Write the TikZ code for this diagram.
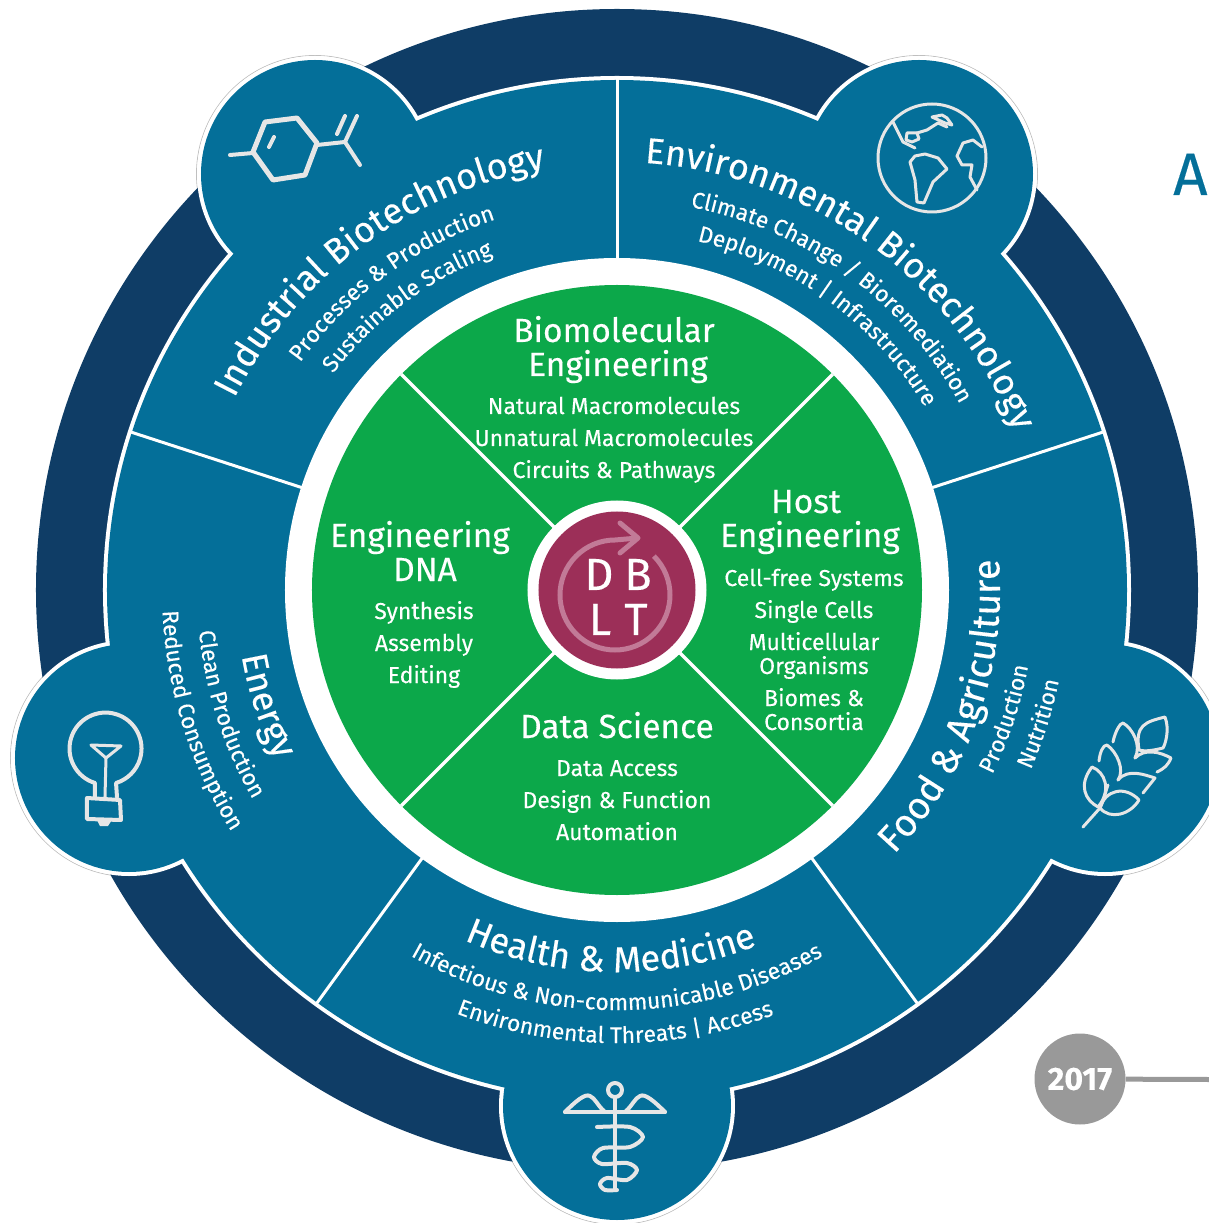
\documentclass[tikz,border=0pt]{standalone}
\usepackage{fontspec}
\setmainfont{Fira Sans}[FakeBold=0.25]
\usetikzlibrary{decorations.text}

\definecolor{navy}{HTML}{0F3D66}
\definecolor{teal}{HTML}{046F99}
\definecolor{leaf}{HTML}{0CA84A}
\definecolor{wine}{HTML}{9C2F58}
\definecolor{rose}{HTML}{C27A97}
\definecolor{icon}{HTML}{E6E6E6}
\definecolor{stone}{HTML}{999999}

\newcommand{\titlesize}{\fontsize{36}{36}\selectfont}
\newcommand{\bigtitlesize}{\fontsize{38}{38}\selectfont}
\newcommand{\itemsize}{\fontsize{22.8}{23}\selectfont}
\newcommand{\clockarc}[4]{\path[decorate,decoration={text along path,text align=center,
   text format delimiters={<}{>},text={<#3\color{white}>#4}}]
   (#2+70:#1) arc[start angle=#2+70,end angle=#2-70,radius=#1];}
\newcommand{\counterarc}[4]{\path[decorate,decoration={text along path,text align=center,
   text format delimiters={<}{>},text={<#3\color{white}>#4}}]
   (#2-70:#1) arc[start angle=#2-70,end angle=#2+70,radius=#1];}

\begin{document}
\catcode`\&=12
\begin{tikzpicture}[x=1pt,y=1pt,
    greentitle/.style ={anchor=base, inner sep=0pt, text=white, font=\fontsize{33.5}{33}\selectfont},
    greenitem/.style ={anchor=base, inner sep=0pt, text=white, font=\fontsize{23}{24}\selectfont},
    letter/.style ={anchor=base, inner sep=0pt, text=white, font=\fontsize{45}{45}\selectfont},
    glyph/.style ={draw=icon, line width=4pt, line join=round, line cap=round},
    thinglyph/.style ={glyph, line width=3pt}]
   \path[use as bounding box] (-617,-633) rectangle (592,590);

   \coordinate (lobeA) at (-302,416);
   \coordinate (lobeB) at (302,416);
   \coordinate (lobeC) at (488,-168);
   \coordinate (lobeD) at (0,-516);
   \coordinate (lobeE) at (-488,-168);

   \foreach \lobe in {lobeA,lobeB,lobeC,lobeD,lobeE}
      \draw[black!25, line width=0.8pt] (\lobe) circle (118.5);
   \fill[navy] (0,0) circle (581);
   \foreach \lobe in {lobeA,lobeB,lobeC,lobeD,lobeE}
      \fill[white] (\lobe) circle (118);
   \fill[white] (0,0) circle (514);
   \foreach \lobe in {lobeA,lobeB,lobeC,lobeD,lobeE}
      \fill[teal] (\lobe) circle (114);
   \fill[teal] (0,0) circle (510);

   \foreach \spoke in {90,162,18,234,306}
      \draw[white, line width=3pt] (\spoke:330) -- (\spoke:511);

   \fill[white] (0,0) circle (332);
   \fill[leaf] (0,0) circle (305);
   \foreach \spoke in {45,135,225,315}
      \draw[white, line width=3.5pt] (0,0) -- (\spoke:305);

   \node[circle, fill=white, inner sep=0pt, minimum size=179pt] (hubring) at (0,0) {};
   \node[circle, fill=wine, inner sep=0pt, minimum size=157pt] (hub) at (0,0) {};

   \clockarc{428}{126.5}{\titlesize}{Industrial Biotechnology}
   \clockarc{390}{126.25}{\itemsize}{Processes & Production}
   \clockarc{357}{126.5}{\itemsize}{Sustainable Scaling}

   \clockarc{428}{54}{\titlesize}{Environmental Biotechnology}
   \clockarc{390}{53.8}{\itemsize}{Climate Change / Bioremediation}
   \clockarc{358}{53.85}{\itemsize}{Deployment | Infrastructure}

   \counterarc{383}{-19.5}{\bigtitlesize}{Food & Agriculture}
   \counterarc{418}{-18.35}{\itemsize}{Production}
   \counterarc{451}{-17.55}{\itemsize}{Nutrition}

   \counterarc{382}{269}{\titlesize}{Health & Medicine}
   \counterarc{420}{270}{\itemsize}{Infectious & Non-communicable Diseases}
   \counterarc{453}{269.75}{\itemsize}{Environmental Threats | Access}

   \counterarc{381}{198.25}{\titlesize}{Energy}
   \counterarc{420}{197.75}{\itemsize}{Clean Production}
   \counterarc{455}{197.35}{\itemsize}{Reduced Consumption}

   \node[greentitle] (biotitle) at (-3,248) {Biomolecular};
   \node[greentitle] (biotitleb) at (1,214) {Engineering};
   \node[greenitem] (bioa) at (-3,176) {Natural Macromolecules};
   \node[greenitem] (biob) at (-3,144) {Unnatural Macromolecules};
   \node[greenitem] (bioc) at (-3,112) {Circuits \& Pathways};

   \node[greentitle] (dnatitle) at (-197,43) {Engineering};
   \node[greentitle] (dnatitleb) at (-192,9) {DNA};
   \node[greenitem] (dnaa) at (-193,-29) {Synthesis};
   \node[greenitem] (dnab) at (-193,-61) {Assembly};
   \node[greenitem] (dnac) at (-193,-93) {Editing};

   \node[greentitle] (hosttitle) at (189,77) {Host};
   \node[greentitle] (hosttitleb) at (193,43) {Engineering};
   \node[greenitem] (hosta) at (197,4) {Cell-free Systems};
   \node[greenitem] (hostb) at (197,-28) {Single Cells};
   \node[greenitem] (hostc) at (197,-60) {Multicellular};
   \node[greenitem] (hostd) at (197,-84) {Organisms};
   \node[greenitem] (hoste) at (197,-116) {Biomes \&};
   \node[greenitem] (hostf) at (197,-140) {Consortia};

   \node[greentitle] (datatitle) at (0,-148) {Data Science};
   \node[greenitem] (dataa) at (0,-186) {Data Access};
   \node[greenitem] (datab) at (0,-218) {Design \& Function};
   \node[greenitem] (datac) at (0,-250) {Automation};

   \draw[rose, line width=5pt] (-2,-5) ++(45:55) arc[start angle=45,end angle=-270,radius=55] -- (21,52);
   \draw[rose, line width=5pt, line cap=round, line join=round] (3,67) -- (21,52) -- (3,37);
   \node[letter] (dletter) at (-18,0) {D};
   \node[letter] (bletter) at (21,0) {B};
   \node[letter] (lletter) at (-17,-45) {L};
   \node[letter] (tletter) at (19,-45) {T};

   \node[circle, fill=stone, inner sep=0pt, minimum size=91pt, text=white,
      font=\bfseries\fontsize{32}{32}\selectfont] (year) at (463,-489) {2017};
   \coordinate (yearend) at (592,-489.5);
   \draw[stone, line width=5pt] (year) -- (yearend);
   \node[anchor=base west, inner sep=0pt, text=teal, font=\fontsize{60}{60}\selectfont] (aletter) at (556,395) {A};

   \begin{scope}[shift={(-617,590)},yscale=-1]
      \draw[glyph, line width=5pt] (265,122) -- (297,118) -- (317,143) -- (305,175) -- (273,180) -- (253,152) -- cycle;
      \draw[glyph] (274,137) -- (269,147);
      \draw[glyph] (230,155) -- (253,153);
      \draw[glyph] (317,145) -- (345,142) -- (360,165);
      \draw[glyph] (345,142) -- (357,116);
      \draw[glyph] (337,134) -- (345,116);

      \draw[thinglyph] (932,158) circle (54);
      \draw[thinglyph] (893,122) -- (903,142) -- (915,148);
      \draw[thinglyph] (925,154) -- (938,158) -- (947,169) -- (933,182) -- (924,203) -- (917,202) -- (915,180) -- (910,162) -- (915,156) -- cycle;
      \draw[thinglyph] (906,140) -- (907,133) -- (917,133) -- (919,139) -- (912,142) -- cycle;
      \draw[thinglyph] (917,133) -- (927,130) -- (938,123) -- (947,127);
      \draw[thinglyph] (932,117) -- (942,115) -- (947,118) -- (952,125) -- (945,123) -- cycle;
      \draw[thinglyph] (982,147) -- (973,140) -- (963,143) -- (957,156) -- (962,165) -- (972,165) -- (970,177) -- (977,190);

      \draw[glyph] (95,797) -- (95,783) arc[start angle=107,end angle=433,radius=36] -- (117,797);
      \draw[thinglyph] (91,745) -- (121,746) -- (106,758) -- cycle;
      \draw[thinglyph] (106,758) -- (105,797);
      \draw[glyph] (87,798) -- (120,800) -- (121,820) -- (87,819) -- cycle;
      \fill[icon] (97,820) -- (100,826) -- (108,826) -- (112,820) -- cycle;

      \draw[thinglyph] (1083,827) -- (1100,808) .. controls (1104,800) and (1106,790) .. (1108,785);
      \draw[thinglyph] (1098,807) .. controls (1085,800) and (1078,785) .. (1092,767) .. controls (1105,772) and (1112,790) .. (1098,807);
      \draw[thinglyph] (1100,808) .. controls (1105,790) and (1125,785) .. (1139,800) .. controls (1130,815) and (1110,820) .. (1100,808);
      \draw[thinglyph] (1099,761) .. controls (1100,752) and (1103,745) .. (1107,745) .. controls (1117,752) and (1125,770) .. (1118,780);
      \draw[thinglyph] (1118,780) .. controls (1128,768) and (1145,775) .. (1155,778) -- (1143,793);
      \draw[thinglyph] (1113,742) .. controls (1115,732) and (1120,723) .. (1123,723) .. controls (1132,728) and (1142,745) .. (1135,758);
      \draw[thinglyph] (1139,750) .. controls (1135,725) and (1145,722) .. (1165,717) .. controls (1170,730) and (1165,745) .. (1163,748) .. controls (1155,750) and (1145,752) .. (1139,750);
      \draw[thinglyph] (1135,758) .. controls (1145,748) and (1160,752) .. (1171,758) .. controls (1168,765) and (1165,768) .. (1157,772);

      \draw[glyph] (615,1090) circle (7);
      \draw[glyph] (615,1097) -- (615,1190);
      \draw[glyph] (565,1112) -- (665,1112);
      \draw[glyph] (565,1112) .. controls (575,1102) and (585,1093) .. (590,1096) .. controls (595,1098) and (598,1106) .. (604,1111);
      \draw[glyph] (665,1112) .. controls (655,1102) and (645,1093) .. (640,1096) .. controls (635,1098) and (632,1106) .. (626,1111);
      \draw[glyph] plot[smooth] coordinates {(597,1127) (630,1127) (643,1137) (630,1147) (603,1148) (594,1157) (602,1164) (627,1163) (637,1170) (627,1180) (607,1178) (600,1184) (605,1190) (617,1190)};
   \end{scope}
 \end{tikzpicture}
\end{document}
